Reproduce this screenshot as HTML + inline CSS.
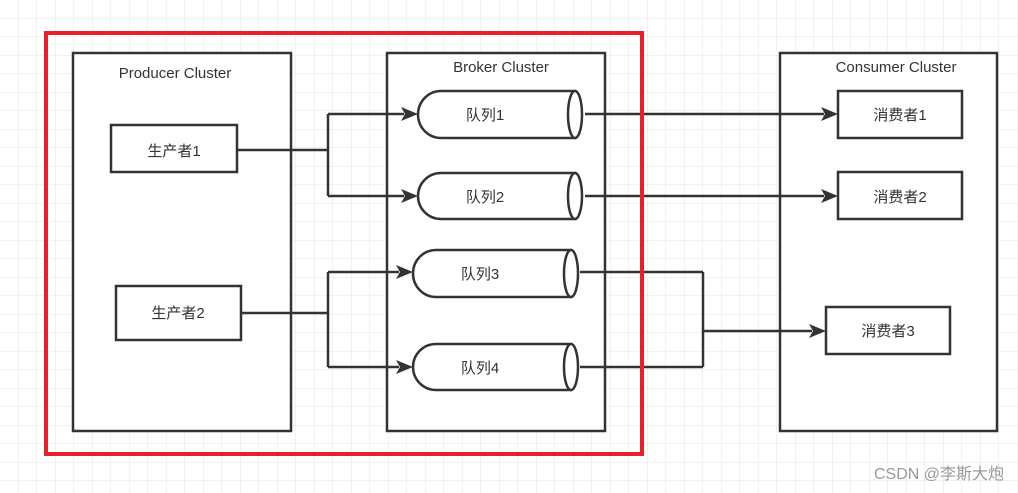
<!DOCTYPE html>
<html><head><meta charset="utf-8"><style>
body{margin:0;width:1018px;height:493px;overflow:hidden;background:#fff}
svg{display:block}
text{font-family:"Liberation Sans","Noto Sans CJK SC",sans-serif;fill:#333}
</style></head><body>
<svg width="1018" height="493" xmlns="http://www.w3.org/2000/svg">
<defs>
<pattern id="g" width="18.5" height="18.5" patternUnits="userSpaceOnUse" x="0" y="0">
<path d="M18.5 0V18.5M0 18.5H18.5" stroke="#e6e6e6" stroke-width="1" fill="none"/>
</pattern>
</defs>
<rect width="1018" height="493" fill="url(#g)"/>
<g fill="#fff" stroke="#333" stroke-width="2.5">
<rect x="73" y="53" width="218" height="378"/>
<rect x="387" y="53" width="218" height="378"/>
<rect x="780" y="53" width="217" height="378"/>
<rect x="111" y="125" width="126" height="47"/>
<rect x="116" y="286" width="125" height="54"/>
<rect x="838" y="91" width="124" height="47"/>
<rect x="838" y="172" width="124" height="47"/>
<rect x="826" y="307" width="124" height="47"/>
<path d="M441,91 H575 V138 H441 A23,23.5 0 0 1 441,91 Z"/>
<ellipse cx="575" cy="114.5" rx="7" ry="23.5"/>
<path d="M441,173 H575 V219 H441 A23,23 0 0 1 441,173 Z"/>
<ellipse cx="575" cy="196" rx="7" ry="23"/>
<path d="M436,250 H571 V297 H436 A23,23.5 0 0 1 436,250 Z"/>
<ellipse cx="571" cy="273.5" rx="7" ry="23.5"/>
<path d="M436,344 H571 V390 H436 A23,23 0 0 1 436,344 Z"/>
<ellipse cx="571" cy="367" rx="7" ry="23"/>
</g>
<g fill="none" stroke="#333" stroke-width="2.5">
<path d="M237,150 H328 M328,114 V196 M241,313 H328 M328,272 V367 M580,272 H703 M580,367 H703 M703,272 V367"/>
<path d="M328,114 H404 M328,196 H404 M328,272 H399 M328,367 H399 M585,114 H824 M585,196 H824 M703,331 H812"/>
</g>
<g fill="#333">
<path d="M418,114 l-17,-7 l4,7 l-4,7z"/>
<path d="M418,196 l-17,-7 l4,7 l-4,7z"/>
<path d="M413,272 l-17,-7 l4,7 l-4,7z"/>
<path d="M413,367 l-17,-7 l4,7 l-4,7z"/>
<path d="M838,114 l-17,-7 l4,7 l-4,7z"/>
<path d="M838,196 l-17,-7 l4,7 l-4,7z"/>
<path d="M826,331 l-17,-7 l4,7 l-4,7z"/>
</g>
<rect x="46" y="33" width="596" height="421" fill="none" stroke="#e8202a" stroke-width="4"/>
<g font-size="15" text-anchor="middle">
<text x="175" y="78">Producer Cluster</text>
<text x="501" y="72">Broker Cluster</text>
<text x="896" y="72">Consumer Cluster</text>
<text x="174" y="156">生产者1</text>
<text x="178" y="318">生产者2</text>
<text x="485" y="120">队列1</text>
<text x="485" y="202">队列2</text>
<text x="480" y="279">队列3</text>
<text x="480" y="373">队列4</text>
<text x="900" y="120">消费者1</text>
<text x="900" y="202">消费者2</text>
<text x="888" y="336">消费者3</text>
</g>
<text x="1004" y="479" font-size="16" text-anchor="end" style="fill:#999">CSDN @李斯大炮</text>
</svg>
</body></html>
